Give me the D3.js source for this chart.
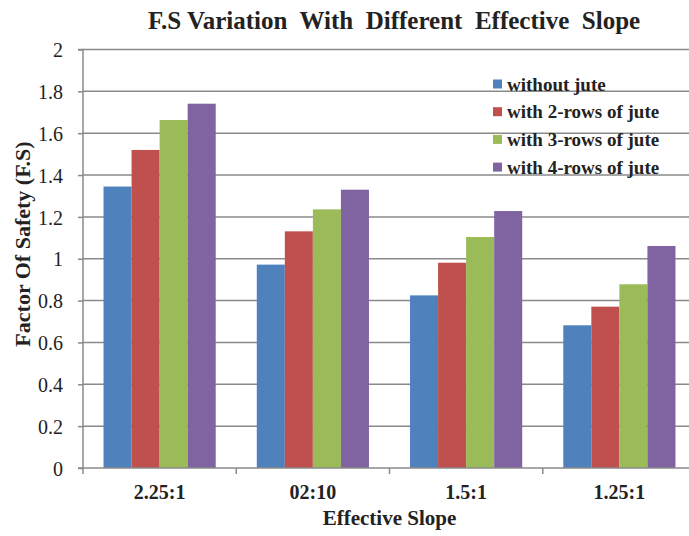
<!DOCTYPE html>
<html><head><meta charset="utf-8">
<script src="https://cdn.jsdelivr.net/npm/d3@7"></script>
<style>body{margin:0;background:#fff}svg{display:block}</style>
</head><body>
<svg id="c" width="689" height="536"></svg>
<script>
const categories = ["2.25:1", "02:10", "1.5:1", "1.25:1"];
const seriesNames = ["without jute", "with 2-rows of jute", "with 3-rows of jute", "with 4-rows of jute"];
const withoutJute = [1.345, 0.972, 0.825, 0.682];
const rows2 = [1.52, 1.131, 0.981, 0.771];
const rows3 = [1.663, 1.236, 1.104, 0.878];
const rows4 = [1.741, 1.33, 1.228, 1.061];
const yTicks = [0, 0.2, 0.4, 0.6, 0.8, 1, 1.2, 1.4, 1.6, 1.8, 2];
const colors = ["#4F81BD", "#C0504D", "#9BBB59", "#8064A2"];
const series = [withoutJute, rows2, rows3, rows4];

const FONT = '"Liberation Serif"';
const svg = d3.select("#c");
const L = 83, R = 696, T = 49.5, B = 468;

const x0 = d3.scaleBand().domain(categories).range([L, R]).paddingInner(0.268).paddingOuter(0.134);
const x1 = d3.scaleBand().domain(d3.range(series.length)).range([0, x0.bandwidth()]);
const y = d3.scaleLinear().domain([0, 2]).range([B, T]);

svg.append("g").selectAll("line").data(yTicks.filter(d => d > 0)).join("line")
  .attr("x1", L).attr("x2", 689).attr("y1", d => y(d)).attr("y2", d => y(d))
  .attr("stroke", "#8a8a8a").attr("stroke-width", 1.5);

const g = svg.append("g");
series.forEach((vals, si) => {
  g.append("g").selectAll("rect").data(vals).join("rect")
    .attr("x", (d, i) => x0(categories[i]) + x1(si))
    .attr("width", x1.bandwidth())
    .attr("y", d => y(d))
    .attr("height", d => B - y(d))
    .attr("fill", colors[si]);
});

const yAxis = d3.axisLeft(y).tickValues(yTicks).tickSize(5).tickPadding(15).tickFormat(d3.format("~g"));
const ya = svg.append("g").attr("transform", `translate(${L},0)`).call(yAxis);
ya.attr("font-family", null).attr("font-size", null);
ya.select(".domain").attr("stroke", "#8a8a8a").attr("stroke-width", 1.5).attr("d", `M-5,${T}H0V${B}H-5`);
ya.selectAll(".tick line").attr("stroke", "#8a8a8a").attr("stroke-width", 1.5);
ya.selectAll("text").style("font-family", FONT).style("font-size", "20px").attr("fill", "#222").attr("dy", "0.36em");

const xa = svg.append("g").attr("transform", `translate(0,${B})`);
xa.append("line").attr("x1", L).attr("x2", 689).attr("y1", 0).attr("y2", 0).attr("stroke", "#8a8a8a").attr("stroke-width", 1.5);
const step = x0.step();
xa.selectAll("line.t").data(d3.range(categories.length + 1)).join("line").attr("class", "t")
  .attr("x1", i => L + i * step).attr("x2", i => L + i * step).attr("y1", 0).attr("y2", 6)
  .attr("stroke", "#8a8a8a").attr("stroke-width", 1.5);
xa.selectAll("text").data(categories).join("text")
  .attr("x", d => x0(d) + x0.bandwidth() / 2).attr("y", 31)
  .attr("text-anchor", "middle")
  .style("font-family", FONT).style("font-weight", "bold").style("font-size", "20px")
  .attr("fill", "#222").text(d => d);

svg.append("text").attr("x", (L + R) / 2).attr("y", 525).attr("text-anchor", "middle")
  .style("font-family", FONT).style("font-weight", "bold").style("font-size", "21px")
  .attr("fill", "#222").text("Effective Slope");
svg.append("text").attr("transform", "translate(30,244) rotate(-90)").attr("text-anchor", "middle")
  .style("font-family", FONT).style("font-weight", "bold").style("font-size", "22px")
  .attr("fill", "#222").text("Factor Of Safety (F.S)");

svg.append("text").attr("x", 148).attr("y", 28.5).attr("text-anchor", "start")
  .style("font-family", FONT).style("font-weight", "bold").style("font-size", "25px")
  .style("white-space", "pre").attr("fill", "#222")
  .text("F.S Variation  With  Different  Effective  Slope");

const lg = svg.append("g").attr("transform", "translate(493,84)");
seriesNames.forEach((n, i) => {
  const row = lg.append("g").attr("transform", `translate(0,${i * 27.7})`);
  row.append("rect").attr("x", 0).attr("y", -4.5).attr("width", 9).attr("height", 9).attr("fill", colors[i]);
  row.append("text").attr("x", 14).attr("y", 6.5)
    .style("font-family", FONT).style("font-weight", "bold").style("font-size", "19px")
    .attr("fill", "#222").text(n);
});
</script>
</body></html>
